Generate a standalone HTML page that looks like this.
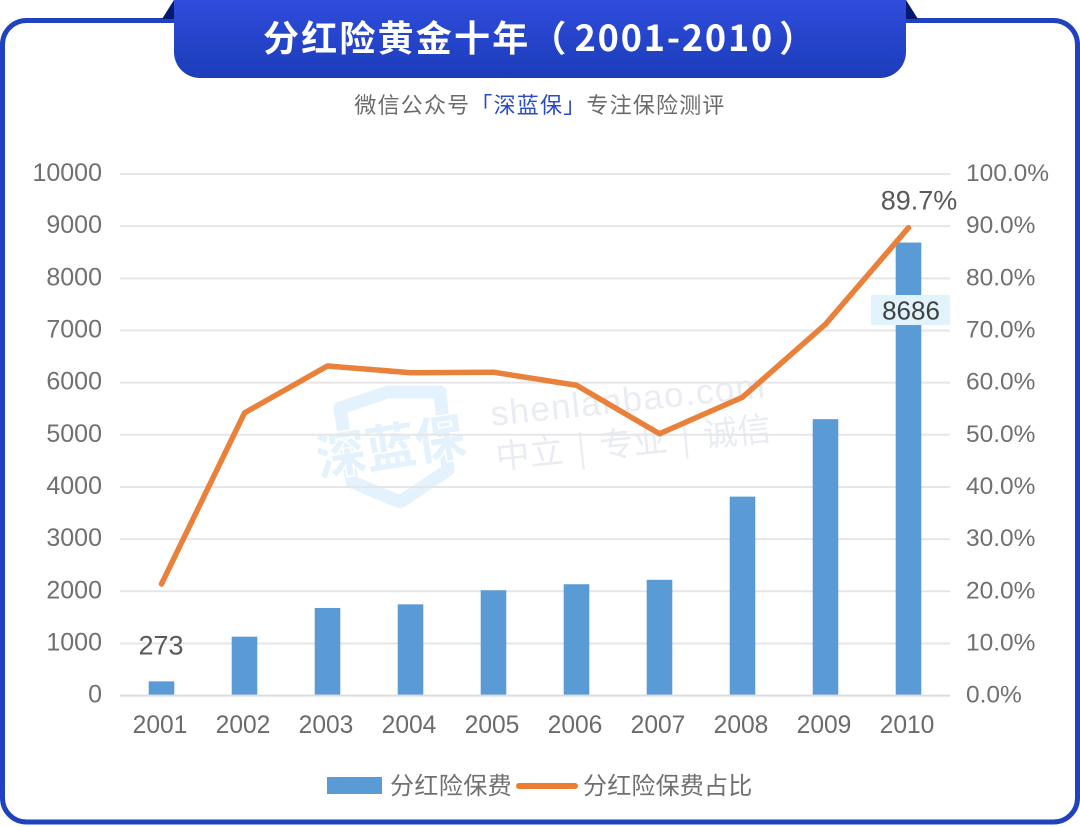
<!DOCTYPE html>
<html lang="zh-CN">
<head>
<meta charset="utf-8">
<title>分红险黄金十年（2001-2010）</title>
<style>
  html, body { margin: 0; padding: 0; background: #fff; }
  body { width: 1080px; height: 827px; overflow: hidden; }
  svg { display: block; }
  text { font-family: "Liberation Sans", "Noto Sans CJK SC", sans-serif; }
</style>
</head>
<body>
<svg id="chart" xmlns="http://www.w3.org/2000/svg" width="1080" height="827" viewBox="0 0 1080 827">
  <defs>
    <linearGradient id="bannerFill" x1="0" y1="0" x2="0" y2="1">
      <stop offset="0" stop-color="#2f4cdc"/>
      <stop offset="1" stop-color="#1c3dba"/>
    </linearGradient>
  </defs>

  <rect x="2.5" y="20.5" width="1075" height="801.5" rx="24" ry="24" fill="#fff" stroke="#1f42c0" stroke-width="5"/>
  <polygon points="162,19 174,0 174,19" fill="#04196f"/>
  <polygon points="906,0 918,19 906,19" fill="#04196f"/>
  <path d="M174,0 H906 V52 A26,26 0 0 1 880,78 H200 A26,26 0 0 1 174,52 Z" fill="url(#bannerFill)"/>
  <text x="263" y="51" fill="#fff" font-size="36" font-weight="700" letter-spacing="2.2" style="font-family:'Noto Sans CJK SC','Liberation Sans',sans-serif">分红险黄金十年（<tspan dx="6" letter-spacing="1.8">2001-2010</tspan><tspan dx="5">）</tspan></text>
  <text x="540" y="113" text-anchor="middle" fill="#6b6b6b" font-size="22" letter-spacing="1.2" style="font-family:'Noto Sans CJK SC','Liberation Sans',sans-serif">微信公众号<tspan fill="#2a4ac8">「深蓝保」</tspan>专注保险测评</text>

  <g id="watermark">
    <path d="M340,408 L388,392 L440,392 L448,470 L400,502 L352,482 Z" fill="none" stroke="#e3f2fc" stroke-width="13" stroke-linejoin="round"/>
    <text x="391" y="465" text-anchor="middle" transform="rotate(-9 391 450)" fill="#e3f2fc" stroke="#fff" stroke-width="3" paint-order="stroke" font-size="50" font-weight="700" style="font-family:'Noto Sans CJK SC',sans-serif">深蓝保</text>
    <text x="492" y="426" transform="rotate(-6 492 426)" fill="#e9ecf2" font-size="35" letter-spacing="1.4">shenlanbao.com</text>
    <text x="497" y="469" transform="rotate(-6 497 469)" fill="#e9ecf2" font-size="34" word-spacing="6" style="font-family:'Noto Sans CJK SC',sans-serif" xml:space="preserve">中立 | 专业 | 诚信</text>
  </g>

  <g id="grid"></g>
  <g id="bars"></g>
  <g id="line"></g>
  <g id="axes"></g>
  <g id="labels"></g>

  <g>
    <rect x="327" y="777" width="55" height="17" fill="#5b9bd5"/>
    <text x="390" y="794" fill="#6f6f6f" font-size="24" letter-spacing="0.4" style="font-family:'Noto Sans CJK SC',sans-serif">分红险保费</text>
    <line x1="519" y1="786" x2="575" y2="786" stroke="#ed7d31" stroke-width="6" stroke-linecap="round"/>
    <text x="583" y="794" fill="#6f6f6f" font-size="24" letter-spacing="0.2" style="font-family:'Noto Sans CJK SC',sans-serif">分红险保费占比</text>
  </g>
</svg>

<script>
const categories = ["2001", "2002", "2003", "2004", "2005", "2006", "2007", "2008", "2009", "2010"];
const premiumValues = [273, 1130, 1680, 1750, 2020, 2135, 2220, 3815, 5300, 8686];
const shareValues = [21.4, 54.2, 63.2, 61.9, 62.0, 59.5, 50.2, 57.2, 71.2, 89.7];
const leftTickLabels = ["0", "1000", "2000", "3000", "4000", "5000", "6000", "7000", "8000", "9000", "10000"];
const rightTickLabels = ["0.0%", "10.0%", "20.0%", "30.0%", "40.0%", "50.0%", "60.0%", "70.0%", "80.0%", "90.0%", "100.0%"];
const premiumMax = 10000;
const shareMax = 100;

const SVG_NS = "http://www.w3.org/2000/svg";
const plotLeft = 120, plotRight = 950, plotTop = 174, plotBottom = 695.6;
const barWidth = 25.6;

function xScale(i) {
  return plotLeft + (plotRight - plotLeft) * (i + 0.5) / categories.length;
}
function yLeft(v) {
  return plotBottom - (plotBottom - plotTop) * v / premiumMax;
}
function yRight(v) {
  return plotBottom - (plotBottom - plotTop) * v / shareMax;
}
function make(tag, attrs, parent, content) {
  const el = document.createElementNS(SVG_NS, tag);
  for (const k in attrs) el.setAttribute(k, attrs[k]);
  if (content !== undefined) el.textContent = content;
  parent.appendChild(el);
  return el;
}

const gridG = document.getElementById("grid");
const barsG = document.getElementById("bars");
const lineG = document.getElementById("line");
const axesG = document.getElementById("axes");
const labelsG = document.getElementById("labels");

leftTickLabels.forEach(function (label, i) {
  const y = plotBottom - (plotBottom - plotTop) * i / (leftTickLabels.length - 1);
  const gridLine = make("line", { x1: plotLeft, x2: plotRight, y1: y, y2: y, stroke: i === 0 ? "#dcdcdc" : "#e6e6e6", "stroke-width": 2 }, gridG);
  
  
  const leftText = make("text", { x: 102, y: y + 7, "text-anchor": "end", fill: "#707070", "font-size": 25 }, axesG, label);
  
  
});

rightTickLabels.forEach(function (label, i) {
  const y = plotBottom - (plotBottom - plotTop) * i / (rightTickLabels.length - 1);
  const rightText = make("text", { x: 966, y: y + 7, fill: "#707070", "font-size": 24.5 }, axesG, label);
  
  
});

categories.forEach(function (cat, i) {
  const x = xScale(i);
  const bar = make("rect", { x: x - barWidth / 2, y: yLeft(premiumValues[i]), width: barWidth, height: plotBottom - 1 - yLeft(premiumValues[i]), fill: "#5b9bd5" }, barsG);
  
  
  const tick = make("text", { x: x - 1.5, y: 733, "text-anchor": "middle", fill: "#6b6b6b", "font-size": 24.6 }, axesG, cat);
  
  
});

const linePoints = shareValues.map(function (v, i) {
  return xScale(i) + "," + yRight(v);
}).join(" ");
const shareLine = make("polyline", { points: linePoints, fill: "none", stroke: "#e9813a", "stroke-width": 5.5, "stroke-linejoin": "round", "stroke-linecap": "round" }, lineG);



const lastIndex = categories.length - 1;
const lastX = xScale(lastIndex);
const labelBox = make("rect", { x: lastX - 37.5, y: yLeft(premiumValues[lastIndex]) + 52.5, width: 79, height: 30, fill: "#e1f3fd" }, labelsG);


const labelLast = make("text", { x: lastX + 2.5, y: yLeft(premiumValues[lastIndex]) + 77, "text-anchor": "middle", fill: "#404040", "font-size": 26 }, labelsG, String(premiumValues[lastIndex]));


const labelFirst = make("text", { x: xScale(0) - 0.5, y: yLeft(premiumValues[0]) - 27, "text-anchor": "middle", fill: "#595959", "font-size": 27 }, labelsG, String(premiumValues[0]));


const labelShare = make("text", { x: lastX + 10.5, y: yRight(shareValues[lastIndex]) - 18, "text-anchor": "middle", fill: "#595959", "font-size": 27 }, labelsG, shareValues[lastIndex].toFixed(1) + "%");


</script>
</body>
</html>
